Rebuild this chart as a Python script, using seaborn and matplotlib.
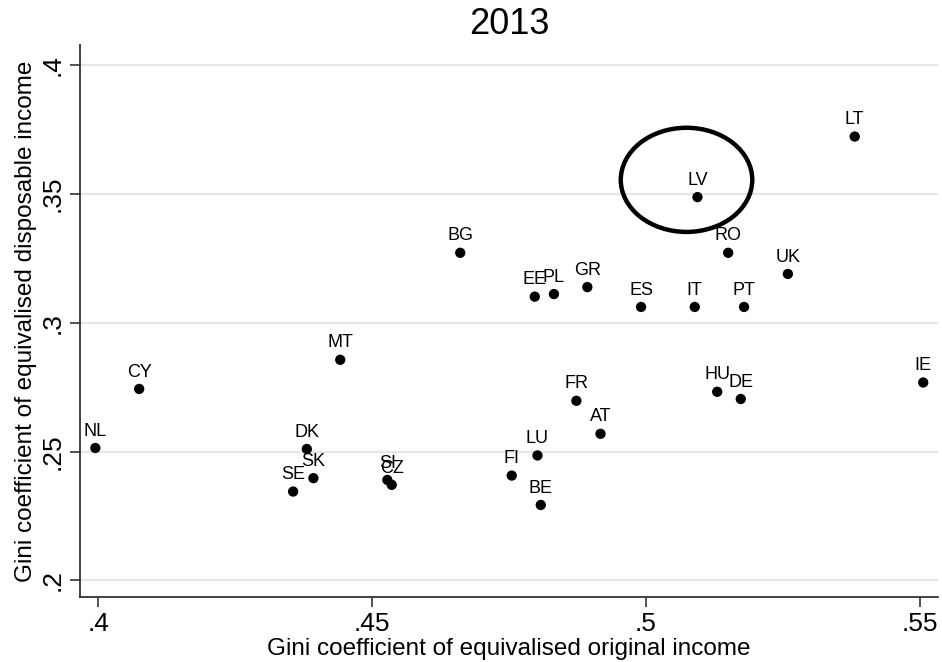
import matplotlib
matplotlib.use("Agg")
import matplotlib.pyplot as plt
from matplotlib.patches import Ellipse
import seaborn as sns
import pandas as pd

# Gini coefficients, 2013
countries = ["NL", "CY", "DK", "SE", "SK", "SI", "CZ", "MT", "BG", "EE", "PL",
             "GR", "ES", "IT", "PT", "LV", "RO", "UK", "LT", "IE", "HU", "DE",
             "FR", "AT", "LU", "FI", "BE"]
gini_original = [0.3995, 0.4075, 0.4381, 0.4356, 0.4393, 0.4528, 0.4536, 0.4442,
                 0.4661, 0.4797, 0.4832, 0.4893, 0.4991, 0.5089, 0.5179, 0.5094,
                 0.5150, 0.5259, 0.5381, 0.5506, 0.5130, 0.5173, 0.4873, 0.4917,
                 0.4802, 0.4755, 0.4808]
gini_disposable = [0.2514, 0.2743, 0.2510, 0.2345, 0.2397, 0.2390, 0.2371, 0.2856,
                   0.3271, 0.3101, 0.3111, 0.3138, 0.3061, 0.3061, 0.3061, 0.3487,
                   0.3271, 0.3189, 0.3722, 0.2768, 0.2732, 0.2704, 0.2697, 0.2569,
                   0.2485, 0.2407, 0.2293]

x_ticks = [0.40, 0.45, 0.50, 0.55]
x_ticklabels = [".4", ".45", ".5", ".55"]
y_ticks = [0.20, 0.25, 0.30, 0.35, 0.40]
y_ticklabels = [".2", ".25", ".3", ".35", ".4"]

df = pd.DataFrame({"country": countries, "orig": gini_original, "disp": gini_disposable})

sns.set_style("white")
plt.rcParams["font.family"] = ["Liberation Sans", "DejaVu Sans"]
plt.rcParams["text.color"] = "black"
plt.rcParams["axes.labelcolor"] = "black"
plt.rcParams["xtick.labelcolor"] = "black"
plt.rcParams["ytick.labelcolor"] = "black"

fig = plt.figure(figsize=(9.42, 6.62), dpi=100)
ax = fig.add_axes([80 / 942, 1 - 597 / 662, 858 / 942, 552 / 662])

sns.scatterplot(data=df, x="orig", y="disp", color="black", s=55,
                edgecolor="none", ax=ax, zorder=3)

for _, r in df.iterrows():
    ax.annotate(r["country"], (r["orig"], r["disp"]), xytext=(0, 6),
                textcoords="offset points", ha="center", va="bottom",
                fontsize=13, color="black", zorder=4)

# circle highlighting Latvia
ax.add_patch(Ellipse((0.5074, 0.3554), 0.0240, 0.0404, fill=False,
                     edgecolor="black", linewidth=3.2, zorder=5))

ax.set_xlim(0.3967, 0.5533)
ax.set_ylim(0.1936, 0.4077)
ax.set_xticks(x_ticks)
ax.set_xticklabels(x_ticklabels, fontsize=19)
ax.set_yticks(y_ticks)
ax.set_yticklabels(y_ticklabels, fontsize=19, rotation=90, va="center")
ax.yaxis.grid(True, color="#e6e6e6", linewidth=1.6)
ax.xaxis.grid(False)
ax.tick_params(axis="both", direction="out", length=7, width=1.2,
               color="#333333", labelcolor="black", pad=4, left=True, bottom=True)

for side in ["top", "right"]:
    ax.spines[side].set_visible(False)
for side in ["left", "bottom"]:
    ax.spines[side].set_color("#333333")
    ax.spines[side].set_linewidth(1.3)

ax.set_xlabel("Gini coefficient of equivalised original income",
              fontsize=17.5, labelpad=1, color="black")
ax.set_ylabel("Gini coefficient of equivalised disposable income",
              fontsize=17.5, labelpad=3, color="black")
fig.text(509 / 942, 1 - 24 / 662, "2013", ha="center", va="center",
         fontsize=26, color="black")

fig.savefig("out.png", dpi=100)
